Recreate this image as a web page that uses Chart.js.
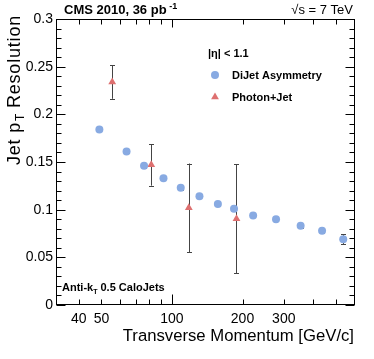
<!DOCTYPE html>
<html>
<head>
<meta charset="utf-8">
<script src="https://cdn.jsdelivr.net/npm/chart.js@4.4.0/dist/chart.umd.min.js"></script>
<style>
html,body{margin:0;padding:0;background:#fff;}
#wrap{width:374px;height:359px;position:relative;}
</style>
</head>
<body>
<div id="wrap"><canvas id="c" width="374" height="359"></canvas></div>
<script>
// ---- data ----
const dijetPt  = [49, 64, 76, 92, 109, 131, 157, 184, 222, 278, 354, 437, 538];
const dijetRes = [0.184, 0.161, 0.146, 0.133, 0.123, 0.114, 0.106, 0.101, 0.094, 0.090, 0.083, 0.078, 0.069];
const dijetErr = [0.002, 0.002, 0.002, 0.002, 0.002, 0.002, 0.002, 0.002, 0.002, 0.002, 0.002, 0.002, 0.005];
const photonPt  = [55.6, 81.6, 118, 188.5];
const photonRes = [0.234, 0.147, 0.102, 0.0905];
const photonErr = [0.0177, 0.0218, 0.0464, 0.0573];
const xTickLabels = [40, 50, 100, 200, 300];
const xMinorTicks = [40, 50, 60, 70, 80, 90, 200, 300, 400, 500, 600];
const xMajorTicks = [100];
const yTickLabels = [0, 0.05, 0.1, 0.15, 0.2, 0.25, 0.3];
const seriesNames = ['DiJet Asymmetry', 'Photon+Jet'];

const FONT = '"Liberation Sans", Arial, Helvetica, sans-serif';
const BLUE = '#88aae2';
const RED = '#de7070';

const errorBars = {
  id: 'errorBars',
  beforeDatasetsDraw(chart) {
    const ctx = chart.ctx, xs = chart.scales.x, ys = chart.scales.y;
    ctx.save();
    ctx.strokeStyle = '#444';
    ctx.lineWidth = 1;
    const sets = [[dijetPt, dijetRes, dijetErr], [photonPt, photonRes, photonErr]];
    sets.forEach(([px, py, pe]) => {
      px.forEach((v, i) => {
        const x = Math.round(xs.getPixelForValue(v)) + 0.5;
        const y1 = ys.getPixelForValue(py[i] + pe[i]);
        const y2 = ys.getPixelForValue(py[i] - pe[i]);
        ctx.beginPath();
        ctx.moveTo(x, y1); ctx.lineTo(x, y2);
        ctx.moveTo(x - 2.5, Math.round(y1) + 0.5); ctx.lineTo(x + 2.5, Math.round(y1) + 0.5);
        ctx.moveTo(x - 2.5, Math.round(y2) + 0.5); ctx.lineTo(x + 2.5, Math.round(y2) + 0.5);
        ctx.stroke();
      });
    });
    ctx.restore();
  }
};

const frameAndText = {
  id: 'frameAndText',
  afterDraw(chart) {
    const ctx = chart.ctx, xs = chart.scales.x, ys = chart.scales.y;
    const a = chart.chartArea;
    const L = Math.round(a.left) + 0.5, R = Math.round(a.right) - 0.5;
    const T = Math.round(a.top) + 0.5, B = Math.round(a.bottom) - 0.5;
    ctx.save();
    ctx.strokeStyle = '#000';
    ctx.lineWidth = 1;
    ctx.strokeRect(L, T, R - L, B - T);
    ctx.beginPath();
    // y ticks (inward, both sides)
    for (let v = 0; v <= 0.3001; v += 0.01) {
      const y = Math.round(ys.getPixelForValue(v)) + 0.5;
      const major = Math.abs(v / 0.05 - Math.round(v / 0.05)) < 1e-6;
      const len = major ? 9 : 5;
      ctx.moveTo(L, y); ctx.lineTo(L + len, y);
      ctx.moveTo(R, y); ctx.lineTo(R - len, y);
    }
    // x ticks (inward, both sides)
    const xt = (v, lb, lt) => {
      if (v < xs.min || v > xs.max) return;
      const x = Math.round(xs.getPixelForValue(v)) + 0.5;
      ctx.moveTo(x, B); ctx.lineTo(x, B - lb);
      ctx.moveTo(x, T); ctx.lineTo(x, T + lt);
    };
    xMinorTicks.forEach(v => xt(v, 5, 5));
    xMajorTicks.forEach(v => xt(v, 10, 8));
    ctx.stroke();

    ctx.fillStyle = '#000';
    ctx.textBaseline = 'alphabetic';
    // header
    ctx.font = 'bold 13px ' + FONT;
    ctx.textAlign = 'left';
    const h1 = 'CMS 2010, 36 pb ';
    ctx.fillText(h1, 64, 14);
    const w1 = ctx.measureText(h1).width;
    ctx.font = 'bold 9px ' + FONT;
    ctx.fillText('-1', 64 + w1 - 1, 9);
    ctx.font = '13px ' + FONT;
    ctx.textAlign = 'right';
    ctx.fillText('\u221As = 7 TeV', 353, 14);

    // x title
    ctx.font = '16.7px ' + FONT;
    ctx.textAlign = 'right';
    ctx.fillText('Transverse Momentum [GeV/c]', 354, 341);

    // y title with subscript
    ctx.save();
    ctx.translate(20, 0);
    ctx.rotate(-Math.PI / 2);
    ctx.textAlign = 'left';
    try { ctx.letterSpacing = '0.8px'; } catch (e) {}
    const big = '18px ' + FONT, small = '12px ' + FONT;
    ctx.font = big; const wa = ctx.measureText('Jet p').width;
    ctx.font = small; const wb = ctx.measureText('T').width;
    ctx.font = big; const wc = ctx.measureText(' Resolution').width;
    const total = wa + wb + wc;
    let sx = -(15 + total);
    ctx.font = big; ctx.fillText('Jet p', sx, 0);
    ctx.font = small; ctx.fillText('T', sx + wa + 1, 4);
    ctx.font = big; ctx.fillText(' Resolution', sx + wa + wb, 0);
    try { ctx.letterSpacing = '0px'; } catch (e) {}
    ctx.restore();

    // legend
    ctx.textAlign = 'left';
    ctx.font = 'bold 11px ' + FONT;
    ctx.fillText('|\u03b7| < 1.1', 208, 57);
    ctx.fillText(seriesNames[0], 232, 79);
    ctx.fillText(seriesNames[1], 232, 101);
    ctx.fillStyle = BLUE;
    ctx.beginPath(); ctx.arc(215, 75, 4, 0, Math.PI * 2); ctx.fill();
    ctx.fillStyle = RED;
    const r = 4.5, cx = 215, cy = 97;
    ctx.beginPath();
    ctx.moveTo(cx, cy - r);
    ctx.lineTo(cx + r * Math.sin(2 * Math.PI / 3), cy - r * Math.cos(2 * Math.PI / 3));
    ctx.lineTo(cx + r * Math.sin(4 * Math.PI / 3), cy - r * Math.cos(4 * Math.PI / 3));
    ctx.closePath(); ctx.fill();

    // jet algorithm label
    ctx.fillStyle = '#000';
    ctx.font = 'bold 11px ' + FONT;
    const t1 = 'Anti-k';
    ctx.fillText(t1, 62, 291);
    const wt = ctx.measureText(t1).width;
    ctx.font = 'bold 7px ' + FONT;
    ctx.fillText('T', 62 + wt, 294);
    const ws = ctx.measureText('T').width;
    ctx.font = 'bold 11px ' + FONT;
    ctx.fillText(' 0.5 CaloJets', 62 + wt + ws, 291);
    ctx.restore();
  }
};

new Chart(document.getElementById('c'), {
  type: 'scatter',
  data: {
    datasets: [
      {
        label: seriesNames[0],
        data: dijetPt.map((x, i) => ({x: x, y: dijetRes[i]})),
        pointStyle: 'circle',
        pointRadius: 4,
        pointBorderWidth: 0,
        backgroundColor: BLUE,
        borderColor: BLUE
      },
      {
        label: seriesNames[1],
        data: photonPt.map((x, i) => ({x: x, y: photonRes[i]})),
        pointStyle: 'triangle',
        pointRadius: 4.5,
        pointBorderWidth: 0,
        backgroundColor: RED,
        borderColor: RED
      }
    ]
  },
  options: {
    responsive: false,
    animation: false,
    devicePixelRatio: 1,
    layout: {padding: {top: 19, right: 19, left: 0, bottom: 0}},
    plugins: {legend: {display: false}, tooltip: {enabled: false}},
    scales: {
      x: {
        type: 'logarithmic',
        min: 32, max: 604,
        grid: {display: false, drawTicks: false},
        border: {display: false},
        afterBuildTicks: s => { s.ticks = xTickLabels.map(v => ({value: v})); },
        afterFit: s => { s.height = 54; },
        ticks: {
          autoSkip: false, maxRotation: 0, padding: 6,
          color: '#000',
          font: {family: FONT, size: 14},
          callback: v => String(v)
        }
      },
      y: {
        type: 'linear',
        min: 0, max: 0.3,
        grid: {display: false, drawTicks: false},
        border: {display: false},
        afterBuildTicks: s => { s.ticks = yTickLabels.map(v => ({value: v})); },
        afterFit: s => { s.width = 56; },
        ticks: {
          padding: 3,
          color: '#000',
          font: {family: FONT, size: 14},
          callback: v => String(Math.round(v * 100) / 100)
        }
      }
    }
  },
  plugins: [errorBars, frameAndText]
});
</script>
</body>
</html>
